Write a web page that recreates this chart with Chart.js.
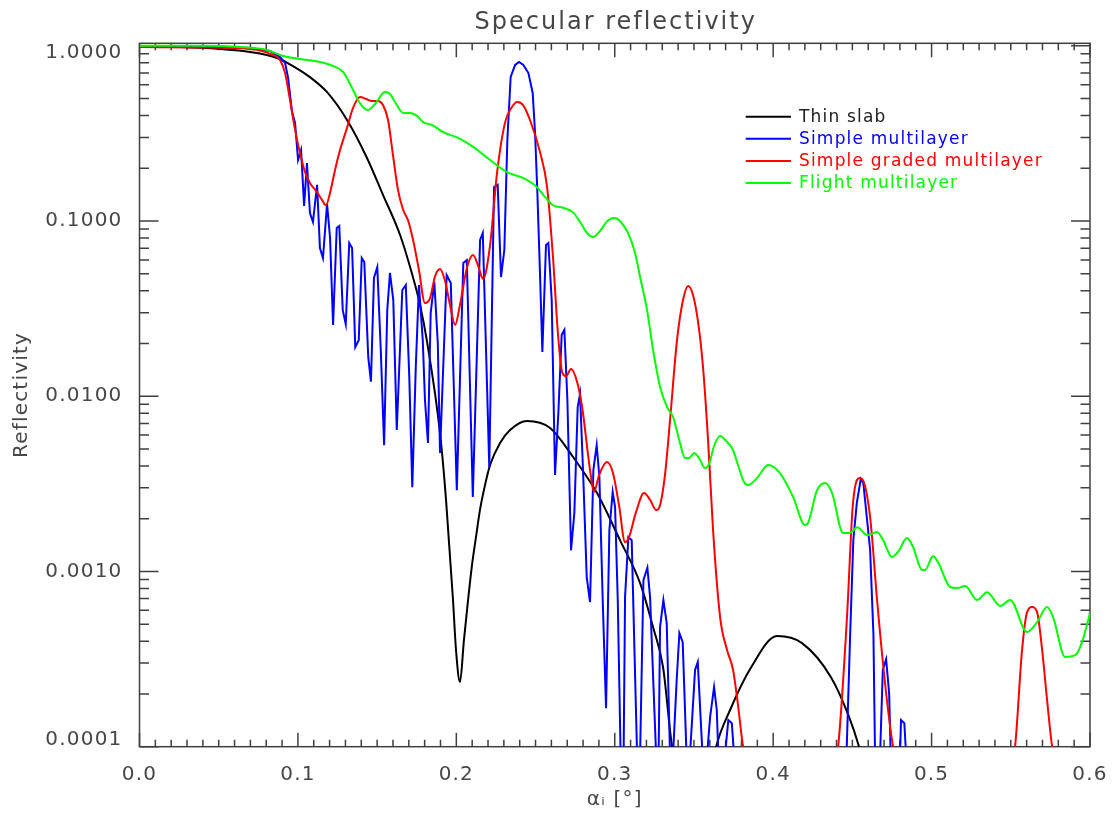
<!DOCTYPE html>
<html><head><meta charset="utf-8">
<script src="https://cdn.jsdelivr.net/npm/chart.js@4.4.1/dist/chart.umd.min.js"></script>
<style>html,body{margin:0;padding:0;background:#fff;}canvas{display:block;}</style>
</head><body>
<canvas id="c" width="1116" height="819"></canvas>
<script>
const chartTitle = 'Specular reflectivity';
const xAxisTitle = 'α\u1D62 [°]';
const yAxisTitle = 'Reflectivity';
const seriesLabels = ['Thin slab', 'Simple multilayer', 'Simple graded multilayer', 'Flight multilayer'];
const seriesColors = ['#000000', '#0000ff', '#ff0000', '#00ff00'];

const xTickValues = [0, 0.1, 0.2, 0.3, 0.4, 0.5, 0.6];
const xTickLabels = ['0.0', '0.1', '0.2', '0.3', '0.4', '0.5', '0.6'];
const yTickValues = [0.0001, 0.001, 0.01, 0.1, 1];
const yTickLabels = ['0.0001', '0.0010', '0.0100', '0.1000', '1.0000'];
const xRange = [0, 0.6];
const yRange = [0.0001, 1.033];

const blackX = [0, 0.0256, 0.0508, 0.0698, 0.0868, 0.0969, 0.1076, 0.1183, 0.1310, 0.1436, 0.1537, 0.1645, 0.1708, 0.1771, 0.1815, 0.1897, 0.1935, 0.1979, 0.1998, 0.2023, 0.2048, 0.2074, 0.2099, 0.2124, 0.2149, 0.2181, 0.2213, 0.2276, 0.2339, 0.2446, 0.2592, 0.2737, 0.2888, 0.3033, 0.3160, 0.3242, 0.3305, 0.3362, 0.3375, 0.3630, 0.3640, 0.3728, 0.3861, 0.4025, 0.4182, 0.4365, 0.4479, 0.4542, 0.4555];
const blackY = [0.991, 0.984, 0.959, 0.922, 0.852, 0.766, 0.662, 0.545, 0.377, 0.229, 0.141, 0.0832, 0.0546, 0.0332, 0.0205, 0.00617, 0.00256, 0.000687, 0.000356, 0.000234, 0.000406, 0.000687, 0.00109, 0.00157, 0.00224, 0.00311, 0.00405, 0.00541, 0.00641, 0.00722, 0.00659, 0.00450, 0.00280, 0.00151, 0.000858, 0.000481, 0.000284, 0.0001, 0.00009, 0.00009, 0.0001, 0.000162, 0.000284, 0.000428, 0.000390, 0.000249, 0.000148, 0.0001, 0.00009];

const blueX = [0, 0.0382, 0.0698, 0.0824, 0.0887, 0.0919, 0.0938, 0.0963, 0.0982, 0.1001, 0.1020, 0.1039, 0.1057, 0.1076, 0.1095, 0.1121, 0.1139, 0.1158, 0.1184, 0.1203, 0.1222, 0.1245, 0.1261, 0.1283, 0.1302, 0.1324, 0.1342, 0.1362, 0.1384, 0.1403, 0.1419, 0.1444, 0.1461, 0.1480, 0.1501, 0.1523, 0.1544, 0.1564, 0.1581, 0.1602, 0.1624, 0.1659, 0.1681, 0.1703, 0.1722, 0.1744, 0.1764, 0.1788, 0.1802, 0.1821, 0.1838, 0.1861, 0.1883, 0.1897, 0.1939, 0.1965, 0.2003, 0.2044, 0.2066, 0.2104, 0.2150, 0.2167, 0.2208, 0.2238, 0.2261, 0.2282, 0.2303, 0.2322, 0.2343, 0.2371, 0.2396, 0.2423, 0.2455, 0.2482, 0.2497, 0.2511, 0.2528, 0.2543, 0.2566, 0.2581, 0.2602, 0.2623, 0.2644, 0.2665, 0.2682, 0.2701, 0.2724, 0.2745, 0.2766, 0.2781, 0.2802, 0.2823, 0.2844, 0.2865, 0.2886, 0.2903, 0.2924, 0.2945, 0.2966, 0.2987, 0.3002, 0.3019, 0.3037, 0.3056, 0.3065, 0.3086, 0.3107, 0.3141, 0.3160, 0.3181, 0.3206, 0.3223, 0.3261, 0.3277, 0.3286, 0.3307, 0.3328, 0.3349, 0.3368, 0.3391, 0.3408, 0.3429, 0.3453, 0.3475, 0.3507, 0.3524, 0.3554, 0.3583, 0.3602, 0.3627, 0.3644, 0.3654, 0.3696, 0.3717, 0.3739, 0.3753, 0.4463, 0.4486, 0.4506, 0.4528, 0.4553, 0.4569, 0.4591, 0.4612, 0.4633, 0.4643, 0.4675, 0.4692, 0.4713, 0.4732, 0.4742, 0.4801, 0.4807, 0.4828, 0.4839];
const blueY = [0.99, 0.99, 0.971, 0.934, 0.863, 0.798, 0.655, 0.419, 0.363, 0.223, 0.254, 0.122, 0.214, 0.111, 0.0987, 0.161, 0.0701, 0.0615, 0.125, 0.0800, 0.0255, 0.0912, 0.0937, 0.0310, 0.0258, 0.0749, 0.0701, 0.0191, 0.0209, 0.0615, 0.0583, 0.0167, 0.0121, 0.0473, 0.0546, 0.0184, 0.00526, 0.0310, 0.0505, 0.0354, 0.00641, 0.0404, 0.0431, 0.0129, 0.00303, 0.0147, 0.0431, 0.0209, 0.00951, 0.00541, 0.0298, 0.0449, 0.0201, 0.00474, 0.0492, 0.0443, 0.00291, 0.0576, 0.0599, 0.00266, 0.0779, 0.0854, 0.00394, 0.156, 0.161, 0.0479, 0.0683, 0.290, 0.664, 0.777, 0.808, 0.777, 0.699, 0.538, 0.318, 0.150, 0.0505, 0.0179, 0.0729, 0.0749, 0.0354, 0.00355, 0.00802, 0.0224, 0.0239, 0.00951, 0.00132, 0.00216, 0.00868, 0.0103, 0.00332, 0.000929, 0.000669, 0.00379, 0.00526, 0.00346, 0.000687, 0.000166, 0.00172, 0.00284, 0.00233, 0.000687, 0.00009, 0.00009, 0.000714, 0.00157, 0.00151, 0.00009, 0.00009, 0.000893, 0.00105, 0.000714, 0.00009, 0.00009, 0.000481, 0.000687, 0.000507, 0.00009, 0.00009, 0.000240, 0.000445, 0.000395, 0.00009, 0.00009, 0.000274, 0.000304, 0.00009, 0.00009, 0.000148, 0.000219, 0.000162, 0.00009, 0.00009, 0.000142, 0.000136, 0.00009, 0.00009, 0.000436, 0.00151, 0.00246, 0.00337, 0.00320, 0.00204, 0.00133, 0.000436, 0.00009, 0.00009, 0.000274, 0.000316, 0.000202, 0.00009, 0.00009, 0.000142, 0.000136, 0.00009];

const redX = [0, 0.0382, 0.0698, 0.0843, 0.0887, 0.0919, 0.0950, 0.0982, 0.1013, 0.1045, 0.1076, 0.1121, 0.1152, 0.1177, 0.1203, 0.1234, 0.1266, 0.1310, 0.1348, 0.1392, 0.1430, 0.1468, 0.1506, 0.1537, 0.1569, 0.1600, 0.1632, 0.1664, 0.1695, 0.1727, 0.1764, 0.1802, 0.1834, 0.1866, 0.1897, 0.1929, 0.1960, 0.1992, 0.2023, 0.2068, 0.2106, 0.2138, 0.2169, 0.2213, 0.2257, 0.2307, 0.2351, 0.2383, 0.2421, 0.2465, 0.2528, 0.2573, 0.2610, 0.2642, 0.2668, 0.2693, 0.2724, 0.2762, 0.2794, 0.2844, 0.2869, 0.2901, 0.2951, 0.2989, 0.3027, 0.3065, 0.3090, 0.3134, 0.3185, 0.3223, 0.3261, 0.3286, 0.3317, 0.3349, 0.3393, 0.3431, 0.3463, 0.3494, 0.3526, 0.3557, 0.3589, 0.3621, 0.3665, 0.3709, 0.3747, 0.3778, 0.3810, 0.3823, 0.4397, 0.4410, 0.4466, 0.4504, 0.4548, 0.4567, 0.4612, 0.4656, 0.4706, 0.4757, 0.4770, 0.5515, 0.5527, 0.5571, 0.5603, 0.5634, 0.5666, 0.5698, 0.5729, 0.5761, 0.5773];
const redY = [0.984, 0.978, 0.959, 0.886, 0.830, 0.699, 0.490, 0.331, 0.244, 0.190, 0.165, 0.146, 0.132, 0.123, 0.145, 0.195, 0.254, 0.340, 0.442, 0.510, 0.497, 0.484, 0.484, 0.459, 0.377, 0.238, 0.150, 0.116, 0.101, 0.0779, 0.0525, 0.0340, 0.0363, 0.0485, 0.0532, 0.0454, 0.0332, 0.0255, 0.0332, 0.0546, 0.0640, 0.0553, 0.0467, 0.0729, 0.188, 0.363, 0.447, 0.478, 0.459, 0.377, 0.248, 0.156, 0.0623, 0.0224, 0.0137, 0.0130, 0.0143, 0.0121, 0.00868, 0.00379, 0.00284, 0.00355, 0.00421, 0.00364, 0.00239, 0.00147, 0.00157, 0.00218, 0.00280, 0.00256, 0.00224, 0.00239, 0.00355, 0.00731, 0.0209, 0.0354, 0.0426, 0.0378, 0.0265, 0.0147, 0.00562, 0.00170, 0.000549, 0.000356, 0.000274, 0.000173, 0.0001, 0.00009, 0.00009, 0.0001, 0.000549, 0.00246, 0.00341, 0.00332, 0.00204, 0.000687, 0.000231, 0.0001, 0.00009, 0.00009, 0.0001, 0.000356, 0.000586, 0.000626, 0.000586, 0.000356, 0.000185, 0.0001, 0.00009];

const greenX = [0, 0.0382, 0.0634, 0.0805, 0.0906, 0.1013, 0.1139, 0.1222, 0.1285, 0.1342, 0.1383, 0.1417, 0.1443, 0.1487, 0.1550, 0.1581, 0.1613, 0.1664, 0.1708, 0.1752, 0.1790, 0.1847, 0.1916, 0.2011, 0.2106, 0.2213, 0.2320, 0.2421, 0.2509, 0.2560, 0.2610, 0.2673, 0.2737, 0.2781, 0.2825, 0.2863, 0.2907, 0.2958, 0.3002, 0.3033, 0.3084, 0.3128, 0.3160, 0.3204, 0.3242, 0.3286, 0.3330, 0.3368, 0.3412, 0.3444, 0.3469, 0.3501, 0.3532, 0.3570, 0.3595, 0.3627, 0.3665, 0.3709, 0.3747, 0.3778, 0.3816, 0.3842, 0.3898, 0.3968, 0.4043, 0.4126, 0.4201, 0.4220, 0.4277, 0.4328, 0.4372, 0.4441, 0.4486, 0.4530, 0.4593, 0.4656, 0.4694, 0.4750, 0.4788, 0.4845, 0.4883, 0.4940, 0.4959, 0.5009, 0.5041, 0.5117, 0.5161, 0.5212, 0.5287, 0.5350, 0.5433, 0.5496, 0.5603, 0.5666, 0.5729, 0.5767, 0.5843, 0.5906, 0.5938, 0.5989, 0.6];
const greenY = [1.0, 0.999, 0.984, 0.946, 0.875, 0.841, 0.808, 0.767, 0.709, 0.574, 0.484, 0.442, 0.430, 0.465, 0.545, 0.531, 0.478, 0.414, 0.414, 0.398, 0.367, 0.353, 0.322, 0.298, 0.265, 0.223, 0.190, 0.176, 0.156, 0.137, 0.123, 0.119, 0.112, 0.0987, 0.0854, 0.0810, 0.0877, 0.101, 0.104, 0.100, 0.0854, 0.0657, 0.0479, 0.0310, 0.0184, 0.0113, 0.00868, 0.00761, 0.00541, 0.00444, 0.00444, 0.00474, 0.00444, 0.00389, 0.00410, 0.00520, 0.00593, 0.00548, 0.00493, 0.00405, 0.00324, 0.00311, 0.00341, 0.00405, 0.00364, 0.00266, 0.00184, 0.00189, 0.00291, 0.00320, 0.00280, 0.00166, 0.00166, 0.00179, 0.00161, 0.00168, 0.00151, 0.00121, 0.00129, 0.00155, 0.00138, 0.00102, 0.00102, 0.00122, 0.00113, 0.000815, 0.000804, 0.000825, 0.000687, 0.000762, 0.000635, 0.000687, 0.000451, 0.000514, 0.000626, 0.000549, 0.000325, 0.000333, 0.000370, 0.000528, 0.000586];

const TEXT_COLOR = '#474747';
const FONT = "'DejaVu Sans', sans-serif";

function pts(xs, ys) { return xs.map((x, i) => ({ x: x, y: ys[i] })); }

const frameAndTicks = {
  id: 'frameAndTicks',
  beforeDraw(chart) { chart.ctx.letterSpacing = '1.2px'; },
  beforeDatasetsDraw(chart) {
    const { ctx, chartArea: a, scales: { x, y } } = chart;
    ctx.save();
    ctx.strokeStyle = '#404040';
    ctx.lineWidth = 1.5;
    ctx.strokeRect(a.left, a.top, a.right - a.left, a.bottom - a.top);
    ctx.beginPath();
    for (let k = 0; k <= 60; k++) {
      const v = k / 100;
      const px = x.getPixelForValue(v);
      const len = (k % 10 === 0) ? 14 : 7;
      ctx.moveTo(px, a.bottom); ctx.lineTo(px, a.bottom - len);
      ctx.moveTo(px, a.top); ctx.lineTo(px, a.top + len);
    }
    for (let e = -4; e <= 0; e++) {
      for (let m = 1; m <= 9; m++) {
        const v = m * Math.pow(10, e);
        if (v > yRange[1]) continue;
        const py = y.getPixelForValue(v);
        const len = (m === 1) ? 19 : 9.5;
        ctx.moveTo(a.left, py); ctx.lineTo(a.left + len, py);
        ctx.moveTo(a.right, py); ctx.lineTo(a.right - len, py);
      }
    }
    ctx.stroke();
    ctx.restore();
  },
  afterDraw(chart) {
    const { ctx, chartArea: a } = chart;
    ctx.save();
    ctx.letterSpacing = '2px';
    ctx.font = "24px " + FONT;
    ctx.fillStyle = TEXT_COLOR;
    ctx.textAlign = 'center';
    ctx.textBaseline = 'alphabetic';
    ctx.fillText(chartTitle, (a.left + a.right) / 2 + 1, 29);
    const w = a.right - a.left;
    const x0 = a.left + 0.6378 * w, x1 = a.left + 0.6854 * w, tx = a.left + 0.6938 * w;
    ctx.letterSpacing = '1.2px';
    ctx.font = "17px " + FONT;
    ctx.textAlign = 'left';
    ctx.textBaseline = 'middle';
    chart.data.datasets.forEach((ds, i) => {
      const yy = a.top + 73.4 + i * 22.1;
      ctx.strokeStyle = ds.borderColor;
      ctx.lineWidth = 2;
      ctx.beginPath(); ctx.moveTo(x0, yy); ctx.lineTo(x1, yy); ctx.stroke();
      ctx.fillStyle = i === 0 ? '#222222' : ds.borderColor;
      ctx.fillText(ds.label, tx, yy + 1);
    });
    ctx.restore();
  }
};

const seriesX = [blackX, blueX, redX, greenX];
const seriesY = [blackY, blueY, redY, greenY];
const datasets = seriesLabels.map((lab, i) => ({
  label: lab,
  data: pts(seriesX[i], seriesY[i]),
  borderColor: seriesColors[i],
  backgroundColor: seriesColors[i],
  borderWidth: 2,
  pointRadius: 0,
  fill: false,
  order: 3 - i,
  tension: i === 1 ? 0 : 0.4,
  cubicInterpolationMode: i === 1 ? 'default' : 'monotone'
}));

new Chart(document.getElementById('c'), {
  type: 'line',
  data: { datasets: datasets },
  plugins: [frameAndTicks],
  options: {
    responsive: false,
    animation: false,
    events: [],
    layout: { padding: { left: 0, right: 26, top: 43.3, bottom: 0 } },
    plugins: { legend: { display: false }, tooltip: { enabled: false }, title: { display: false } },
    scales: {
      x: {
        type: 'linear', min: xRange[0], max: xRange[1],
        grid: { display: false }, border: { display: false },
        afterBuildTicks: (s) => { s.ticks = xTickValues.map(v => ({ value: v })); },
        afterFit: (s) => { s.height = 72.3; s.paddingLeft = 0; s.paddingRight = 0; },
        ticks: {
          autoSkip: false, maxRotation: 0, padding: 8, color: TEXT_COLOR,
          font: { family: FONT, size: 20 },
          callback: (v, i) => xTickLabels[i]
        },
        title: {
          display: true, text: xAxisTitle, color: TEXT_COLOR,
          font: { family: FONT, size: 20, lineHeight: '24px' },
          padding: { top: 0, bottom: 7 }
        }
      },
      y: {
        type: 'logarithmic', min: yRange[0], max: yRange[1],
        grid: { display: false }, border: { display: false },
        afterBuildTicks: (s) => { s.ticks = yTickValues.map(v => ({ value: v })); },
        afterFit: (s) => { s.width = 139.5; },
        ticks: {
          autoSkip: false, padding: 9, color: TEXT_COLOR,
          font: { family: FONT, size: 20, lineHeight: '14px' },
          callback: (v, i) => {
            const lab = yTickLabels[i];
            if (i === yTickLabels.length - 1) return ['', lab];
            if (i === 0) return [lab, ''];
            return lab;
          }
        },
        title: {
          display: true, text: yAxisTitle, color: TEXT_COLOR,
          font: { family: FONT, size: 20, lineHeight: '24px' },
          padding: { top: 10, bottom: 0 }
        }
      }
    }
  }
});
</script>
</body></html>
